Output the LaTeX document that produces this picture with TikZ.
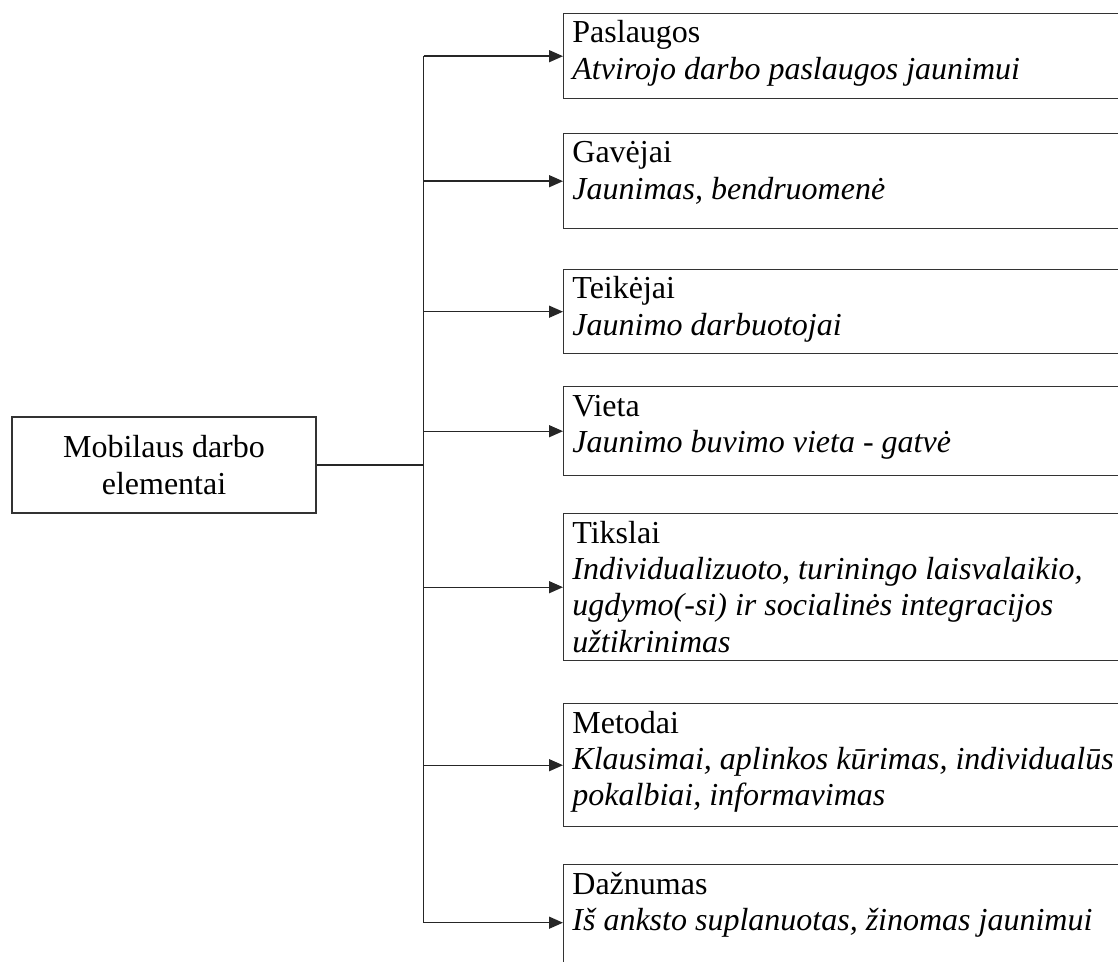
\documentclass[tikz,border=0pt]{standalone}
\usepackage{fontspec}
\setmainfont{Liberation Serif}
\usepackage{tikz}
\usetikzlibrary{arrows.meta, positioning, calc}
\tikzset{
  x=0.5pt, y=-0.5pt,
  every node/.style={font=\fontsize{16pt}{18.2pt}\selectfont},
  box/.style={draw=black!80, line width=0.7pt, rectangle, anchor=north west,
    minimum width=283.5pt, inner sep=0pt},
  mainbox/.style={draw=black!80, line width=0.7pt, rectangle, align=center,
    minimum width=152pt, minimum height=48pt, inner sep=0pt},
  txt/.style={anchor=base west, align=flush left, text width=300pt, inner sep=0pt},
  link/.style={draw=black!85, line width=0.7pt},
  >={Triangle[length=7pt, width=6pt]}
}

\begin{document}
\begin{tikzpicture}
\useasboundingbox (0,0) rectangle (1118,962);
\clip (0,0) rectangle (1118,962);

\node[mainbox] (main) at (164,465) {Mobilaus darbo\\elementai};
\coordinate[right=53.5pt of main.east] (trunk);

% boxes on the right
\node[box, minimum height=42.5pt] (p1) at (563,13) {};
\node[box, minimum height=47.5pt] (p2) at (563,133) {};
\node[box, minimum height=42pt] (p3) at (563,269) {};
\node[box, minimum height=44.5pt] (p4) at (563,386) {};
\node[box, minimum height=73.5pt] (p5) at (563,513) {};
\node[box, minimum height=61.5pt] (p6) at (563,703) {};
\node[box, minimum height=58pt] (p7) at (563,864) {};

\node[txt] (t1) at ([shift={(4.5pt,-15pt)}]p1.north west)
  {Paslaugos\\\textit{Atvirojo darbo paslaugos jaunimui}};
\node[txt] (t2) at ([shift={(4.5pt,-15pt)}]p2.north west)
  {Gavėjai\\\textit{Jaunimas, bendruomenė}};
\node[txt] (t3) at ([shift={(4.5pt,-15pt)}]p3.north west)
  {Teikėjai\\\textit{Jaunimo darbuotojai}};
\node[txt] (t4) at ([shift={(4.5pt,-15pt)}]p4.north west)
  {Vieta\\\textit{Jaunimo buvimo vieta - gatvė}};
\node[txt] (t5) at ([shift={(4.5pt,-15pt)}]p5.north west)
  {Tikslai\\\textit{Individualizuoto, turiningo laisvalaikio,}\\
   \textit{ugdymo(-si) ir socialinės integracijos}\\\textit{užtikrinimas}};
\node[txt] (t6) at ([shift={(4.5pt,-15pt)}]p6.north west)
  {Metodai\\\textit{Klausimai, aplinkos kūrimas, individualūs}\\
   \textit{pokalbiai, informavimas}};
\node[txt] (t7) at ([shift={(4.5pt,-15pt)}]p7.north west)
  {Dažnumas\\\textit{Iš anksto suplanuotas, žinomas jaunimui}};

% connectors
\draw[link] (main.east) -- (trunk);
\draw[link] (p1.west -| trunk) -- (p7.west -| trunk);
\foreach \i in {1,...,7}
  \draw[link, ->] (p\i.west -| trunk) -- (p\i.west);
\end{tikzpicture}
\end{document}
